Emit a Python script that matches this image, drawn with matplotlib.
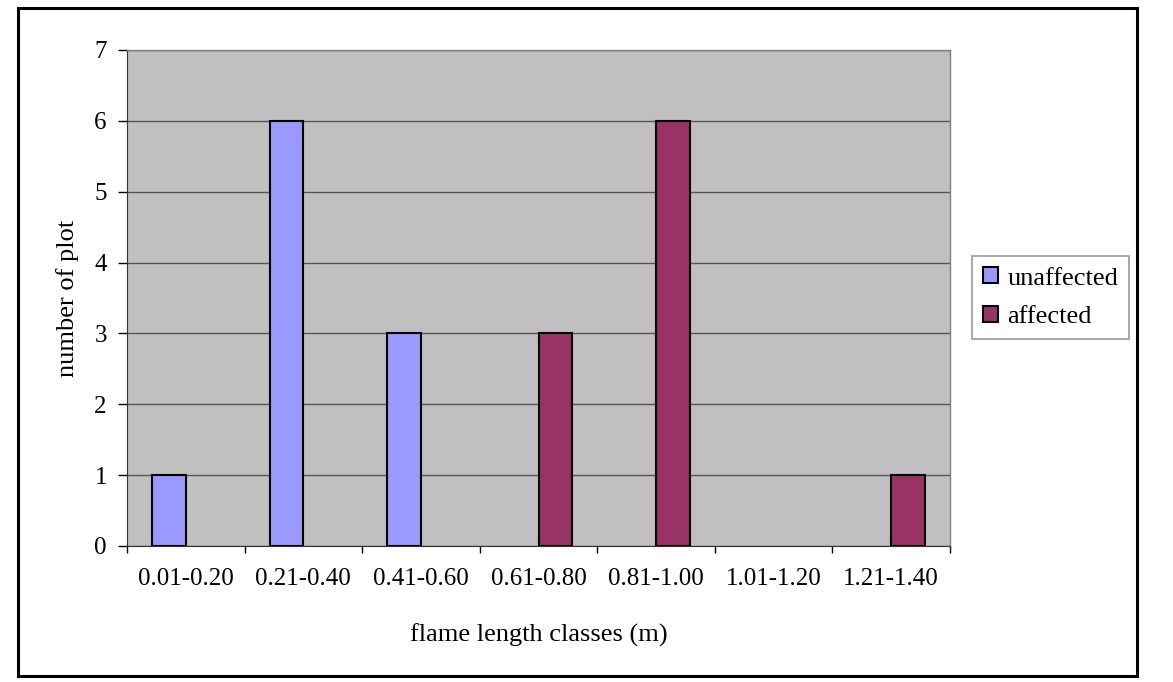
import numpy as np
import matplotlib
matplotlib.use("Agg")
import matplotlib.pyplot as plt
from matplotlib.patches import Rectangle

# flame length classes and plot counts
classes = ["0.01-0.20", "0.21-0.40", "0.41-0.60", "0.61-0.80",
           "0.81-1.00", "1.01-1.20", "1.21-1.40"]
unaffected = [1, 6, 3, 0, 0, 0, 0]
affected = [0, 0, 0, 3, 6, 0, 1]

plt.rcParams['font.family'] = ['Liberation Serif', 'DejaVu Serif']

W, H = 1173, 682
fig = plt.figure(figsize=(W / 100, H / 100), dpi=100)

# outer chart frame
fig.patches.append(Rectangle((18 / W, 1 - 676 / H), (1137 - 18) / W, (676 - 8) / H,
                             transform=fig.transFigure, fill=False,
                             edgecolor='black', linewidth=2.2))

ax = fig.add_axes([127 / W, 1 - 546 / H, 823 / W, 496 / H])
ax.set_facecolor('#C0C0C0')

x = np.arange(len(classes))
w = 1 / 3.5
# empty classes get no outline
ax.bar(x - w / 2, unaffected, w, color='#9999FF', edgecolor='black',
       linewidth=[1.5 if v else 0 for v in unaffected], label='unaffected', zorder=3)
ax.bar(x + w / 2, affected, w, color='#993366', edgecolor='black',
       linewidth=[1.5 if v else 0 for v in affected], label='affected', zorder=3)

ax.set_xlim(-0.5, len(classes) - 0.5)
ax.set_ylim(0, 7)
ax.set_yticks(range(8))
ax.yaxis.grid(True, color='#555555', linewidth=1, zorder=1)
ax.set_axisbelow(True)

ax.set_xticks(x)
ax.set_xticklabels(classes)
ax.set_xticks(np.arange(-0.5, len(classes), 1), minor=True)
ax.tick_params(axis='x', which='major', length=0, pad=16, labelsize=18)
ax.tick_params(axis='x', which='minor', length=5, width=1, direction='out')
ax.tick_params(axis='y', length=6.5, width=1, direction='out', pad=8, labelsize=18)

for side in ('top', 'right'):
    ax.spines[side].set_color('#808080')
    ax.spines[side].set_linewidth(1)
ax.spines['left'].set_color('#333333')
ax.spines['bottom'].set_color('#333333')

ax.set_xlabel('flame length classes (m)', fontsize=19, labelpad=24)
ax.set_ylabel('number of plot', fontsize=19, labelpad=11)

leg = fig.legend(loc='upper left', bbox_to_anchor=(972 / W, 1 - 256 / H),
                 fontsize=19, frameon=True, fancybox=False, handlelength=0.57,
                 handleheight=0.57, handletextpad=0.35, borderpad=0.42,
                 labelspacing=0.62, borderaxespad=0)
leg.get_frame().set_edgecolor('#808080')
leg.get_frame().set_linewidth(1.2)
for h in leg.legend_handles:
    h.set_linewidth(1.5)
    h.set_edgecolor('black')

fig.savefig('out.png', dpi=100)
